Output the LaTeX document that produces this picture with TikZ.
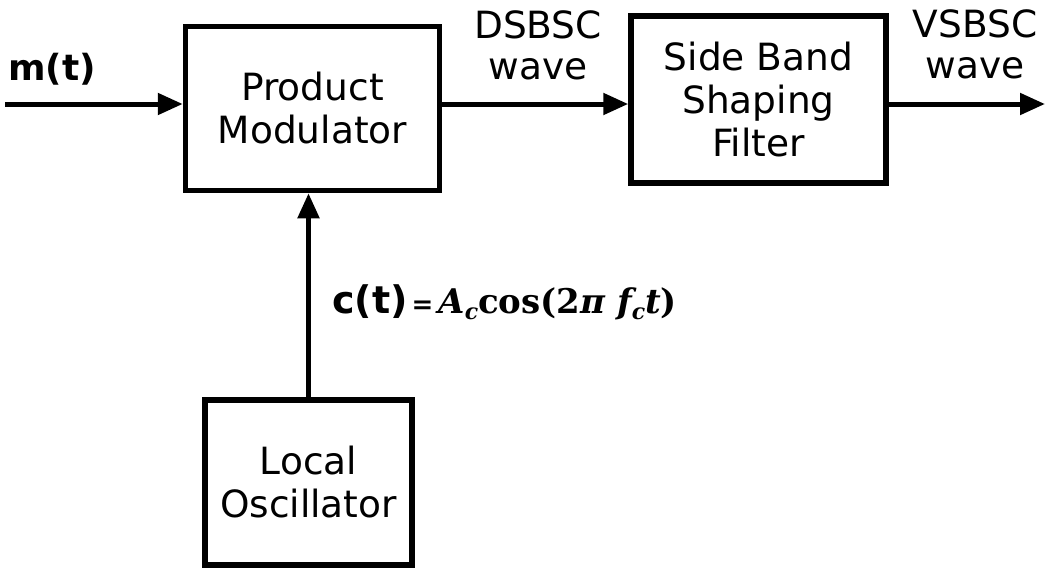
\documentclass[tikz,border=0pt]{standalone}
\usepackage{fontspec}
\setmainfont{DejaVu Sans}
\newfontfamily\eqfont{DejaVu Serif}
\usetikzlibrary{arrows.meta}
\newcommand\lowidx[1]{\raisebox{-0.35ex}{\fontsize{22}{22}\selectfont #1}}
\begin{document}
\begin{tikzpicture}[x=1pt,y=-1pt,
  blk/.style={draw, line width=5.5pt, inner sep=0pt, align=center,
              font=\fontsize{37.5}{43}\selectfont},
  sig/.style={line width=5pt, -{Triangle[length=25pt,width=21pt]}},
  lbl/.style={align=center, inner sep=0pt, font=\fontsize{37.5}{41}\selectfont}]
\useasboundingbox (0,0) rectangle (1046,570);

% blocks
\node[blk, minimum width=254pt, minimum height=164pt] (pm) at (312.5,108.5) {Product\\Modulator};
\node[blk, minimum width=255pt, minimum height=167pt] (sbf) at (758.5,99.5) {Side Band\\Shaping\\Filter};
\node[blk, minimum width=207pt, minimum height=165pt] (lo) at (308.5,482.5) {Local\\Oscillator};

% signal path
\coordinate (src) at (5,104);
\coordinate (dst) at (1045,104);
\draw[sig] (src) -- (pm.west |- src);
\draw[sig] (pm.east |- src) -- (sbf.west |- src);
\draw[sig] (sbf.east |- src) -- (dst);
\draw[sig] (lo.north) -- (lo.north |- pm.south);

% signal labels
\node[anchor=base, inner sep=0pt, font=\fontsize{36}{40}\selectfont\bfseries] (mt) at (52,80) {m(t)};
\node[lbl] (dsb) at (538,45) {DSBSC\\wave};
\node[lbl] (vsb) at (975,44) {VSBSC\\wave};
\node[anchor=base west, inner sep=0pt] (ct) at (332,313)
  {{\fontsize{38}{40}\selectfont\bfseries c(t)}\hspace{4pt}{\fontsize{26}{28}\selectfont\bfseries =}\hspace{5pt}{\eqfont\fontsize{34}{36}\selectfont\bfseries\itshape A\lowidx{c}\upshape cos(2\itshape π f\lowidx{c}t\upshape)}};
\end{tikzpicture}
\end{document}
